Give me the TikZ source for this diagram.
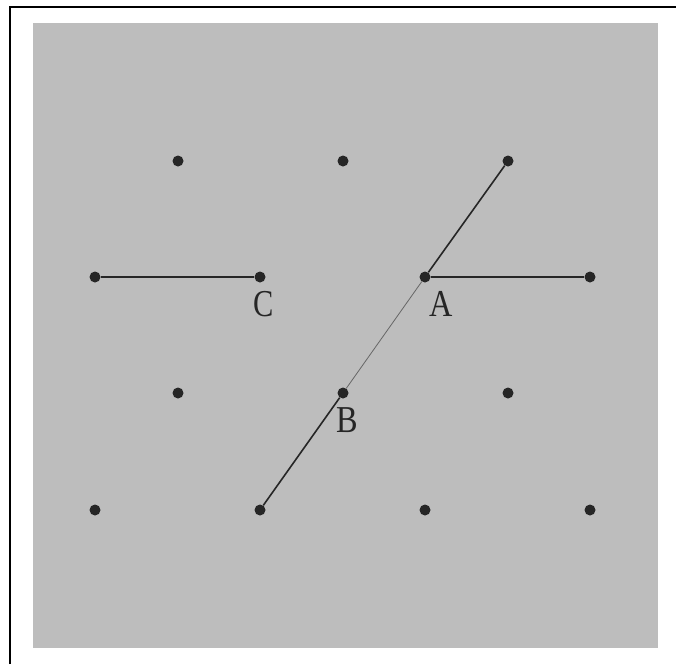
\documentclass[tikz,border=0pt]{standalone}
\usepackage{fontspec}
\setmainfont{Liberation Serif}
\begin{document}
\begin{tikzpicture}[x=1pt,y=-1pt,
  dot/.style={circle,fill=black!85,inner sep=0pt,minimum size=11pt},
  lbl/.style={font=\fontsize{38}{38}\selectfont,inner sep=0pt,text=black!85},
  bond/.style={line width=1.6pt,black!85},
  thinbond/.style={line width=0.8pt,black!60},
  frameline/.style={line width=2pt,black}]
\useasboundingbox (0,0) rectangle (676,664);
\fill[black!26] (33,23) rectangle (658,648);
\coordinate (f1) at (10,664);
\coordinate (f2) at (10,7);
\coordinate (f3) at (676,7);
\draw[frameline] (f1) -- (f2) -- (f3);
% row 1
\node[dot] (p11) at (178,161) {};
\node[dot] (p12) at (343,161) {};
\node[dot] (p13) at (508,161) {};
% row 2
\node[dot] (p21) at (95,277) {};
\node[dot] (C)   at (260,277) {};
\node[dot] (A)   at (425,277) {};
\node[dot] (p24) at (590,277) {};
% row 3
\node[dot] (p31) at (178,393) {};
\node[dot] (B)   at (343,393) {};
\node[dot] (p33) at (508,393) {};
% row 4
\node[dot] (p41) at (95,510) {};
\node[dot] (p42) at (260,510) {};
\node[dot] (p43) at (425,510) {};
\node[dot] (p44) at (590,510) {};
% connectors
\draw[bond] (p21) -- (C);
\draw[bond] (A) -- (p24);
\draw[bond] (A) -- (p13);
\draw[thinbond] (B) -- (A);
\draw[bond] (p42) -- (B);
% labels
\node[lbl] (lC) at (264,304) {\scalebox{0.8}[1]{C}};
\node[lbl] (lA) at (441,304) {\scalebox{0.85}[1]{A}};
\node[lbl] (lB) at (347,420) {\scalebox{0.85}[1]{B}};
\end{tikzpicture}
\end{document}
